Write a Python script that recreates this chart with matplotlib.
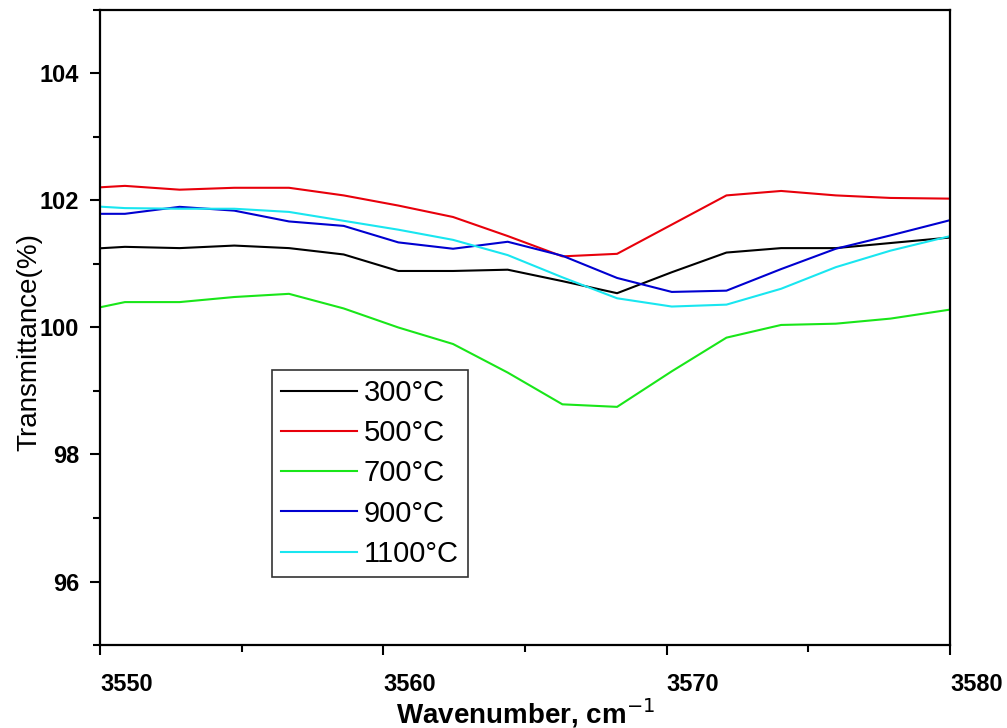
import matplotlib
matplotlib.use("Agg")
import matplotlib.pyplot as plt
from matplotlib.ticker import MultipleLocator

# wavenumber points (cm-1)
wavenumber = [3548.95, 3550.88, 3552.81, 3554.74, 3556.67, 3558.60, 3560.53, 3562.46,
              3564.39, 3566.32, 3568.25, 3570.18, 3572.11, 3574.04, 3575.97, 3577.90,
              3579.83, 3581.76]

t300 = [101.22, 101.27, 101.25, 101.29, 101.25, 101.15, 100.89, 100.89,
        100.91, 100.73, 100.54, 100.87, 101.18, 101.25, 101.25, 101.33,
        101.41, 101.48]
t500 = [102.18, 102.23, 102.17, 102.20, 102.20, 102.08, 101.92, 101.74,
        101.44, 101.12, 101.16, 101.62, 102.08, 102.15, 102.08, 102.04,
        102.03, 102.02]
t700 = [100.22, 100.40, 100.40, 100.48, 100.53, 100.30, 100.00, 99.74,
        99.29, 98.79, 98.75, 99.31, 99.84, 100.04, 100.06, 100.14,
        100.27, 100.40]
t900 = [101.79, 101.79, 101.90, 101.84, 101.67, 101.60, 101.34, 101.24,
        101.35, 101.13, 100.78, 100.56, 100.58, 100.92, 101.24, 101.45,
        101.67, 101.90]
t1100 = [101.93, 101.88, 101.87, 101.87, 101.82, 101.68, 101.54, 101.38,
         101.14, 100.79, 100.46, 100.33, 100.36, 100.61, 100.95, 101.21,
         101.42, 101.62]

labels = ["300\u00b0C", "500\u00b0C", "700\u00b0C", "900\u00b0C", "1100\u00b0C"]
colors = ["black", "#e8000b", "#19e619", "#0000d0", "#19e6f0"]

plt.rcParams['font.family'] = ['Liberation Sans', 'DejaVu Sans']
narrow = ['Liberation Sans Narrow', 'Liberation Sans', 'DejaVu Sans']

fig = plt.figure(figsize=(10.07, 7.28), dpi=100)
ax = fig.add_axes([0.0993, 0.114, 0.8441, 0.8723])

for ys, lab, col in zip([t300, t500, t700, t900, t1100], labels, colors):
    ax.plot(wavenumber, ys, color=col, lw=1.5, label=lab)

ax.set_xlim(3550, 3580)
ax.set_ylim(95, 105)
ax.xaxis.set_major_locator(MultipleLocator(10))
ax.xaxis.set_minor_locator(MultipleLocator(5))
ax.yaxis.set_major_locator(MultipleLocator(2))
ax.yaxis.set_minor_locator(MultipleLocator(1))

for s in ax.spines.values():
    s.set_linewidth(1.6)
ax.tick_params(which='major', length=7, width=1.5, direction='out')
ax.tick_params(which='minor', length=5, width=1.5, direction='out')
ax.tick_params(axis='x', pad=13)
ax.tick_params(axis='y', pad=8)

for t in ax.get_xticklabels() + ax.get_yticklabels():
    t.set_fontweight('bold')
    t.set_fontsize(17)
    t.set_family(narrow)
for t in ax.get_xticklabels():
    t.set_horizontalalignment('left')

ax.set_xlabel("Wavenumber, cm$^{-1}$", fontsize=20, fontweight='bold', family=narrow)
ax.xaxis.set_label_coords(0.5, -0.08)
ax.set_ylabel("Transmittance(%)", fontsize=20)
ax.yaxis.set_label_coords(-0.068, 0.477)

leg = ax.legend(loc='upper left', bbox_to_anchor=(0.2024, 0.433), fontsize=21,
                frameon=True, fancybox=False, edgecolor='black', handlelength=2.6,
                handletextpad=0.25, labelspacing=0.42, borderpad=0.3, borderaxespad=0)
leg.get_frame().set_linewidth(1.2)

fig.savefig("out.png", dpi=100)
